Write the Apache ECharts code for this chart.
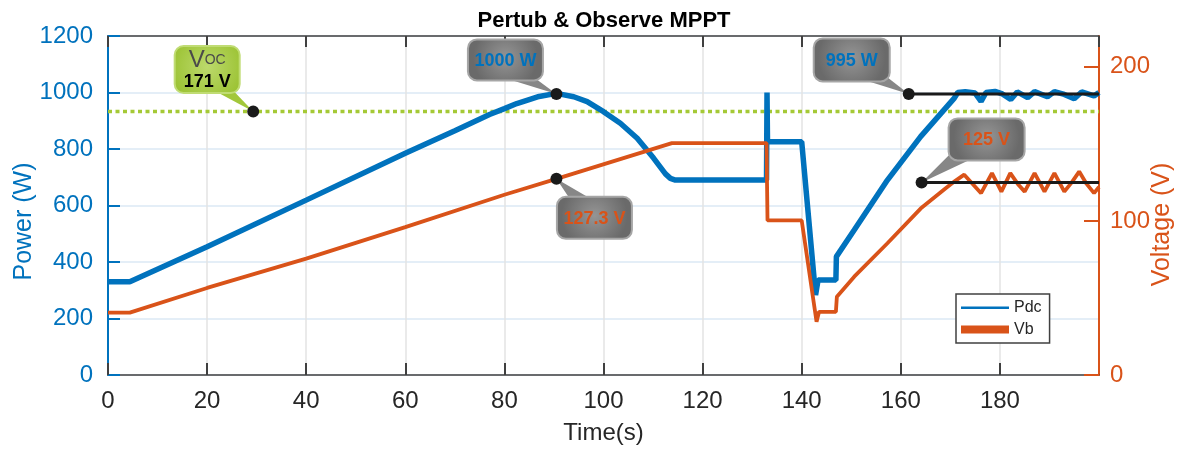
<!DOCTYPE html>
<html>
<head>
<meta charset="utf-8">
<title>Pertub & Observe MPPT</title>
<script src="https://cdn.jsdelivr.net/npm/echarts@6/dist/echarts.min.js"></script>
<style>
  html, body { margin: 0; padding: 0; background: #fff; }
  #chart { width: 1184px; height: 454px; }
</style>
</head>
<body>
<div id="chart"></div>
<script>
// Pdc (W) against time (s)
const pdcPoints = [
  [0, 330], [4.4, 330], [20, 454], [40, 619], [60, 785], [70, 865], [77, 922], [80, 943],
  [82.5, 961], [85, 975], [87, 986], [90.5, 997], [94, 985], [96.7, 968], [100, 932],
  [103.4, 891], [106.8, 838], [110.1, 768], [112.5, 712], [113.5, 696], [114.5, 690],
  [132.9, 690], [133, 1000], [133.1, 826], [140, 826],
  [142.8, 283], [143.3, 336], [146.9, 336], [147, 419], [150.6, 513], [157.3, 690], [164, 844],
  [170.8, 980], [171.5, 1000], [173, 1003], [175, 998], [176.2, 968], [177.2, 1000], [179, 1004],
  [180.5, 995], [182.2, 975], [183.5, 1002], [185.6, 982], [187, 1003], [189.6, 985], [191, 1003],
  [193, 993], [195, 978], [196.5, 1002], [199, 988], [200, 1000]
]
// Vb (V) against time (s)
const vbPoints = [
  [0, 40.5], [4.4, 40.5], [20, 56.5], [40, 75.5], [60, 96], [80, 117], [90.5, 127.3],
  [113.8, 150.5], [132.9, 150.5], [133.1, 100.3], [140, 100.3], [143, 34.6], [143.5, 41],
  [146.9, 41], [147.1, 50.8], [150.6, 63.8], [157.3, 85.5], [164, 108], [169, 121],
  [171, 126], [172.8, 130], [174.5, 124], [176.2, 118], [178.4, 131], [180.3, 119], [182.1, 131],
  [183.6, 124], [185, 119], [187, 131], [189, 119], [191, 131], [193, 119], [194.5, 125],
  [196, 132], [197.5, 124], [199, 118], [200, 122]
]
const vocLevel = 171
const seriesNames = ['Pdc', 'Vb']

// callouts: [time, value]
const powerNotes = [[90.5, 995], [161.6, 995]]
const powerNoteText = ['1000 W', '995 W']
const voltNotes = [[29.3, 171], [90.5, 127.3], [164.2, 125]]
const voltNoteText = ['{a|V}{b|OC}\n{c|171 V}', '127.3 V', '125 V']

const BLUE = '#0072BD'
const ORANGE = '#D95319'
const FONT = 'Liberation Sans, Arial, Helvetica, sans-serif'

const grayFill = () => new echarts.graphic.RadialGradient(0.5, 0.45, 0.75, [
  { offset: 0, color: '#959595' }, { offset: 1, color: '#6a6a6a' }
])
const greenFill = () => new echarts.graphic.RadialGradient(0.5, 0.45, 0.75, [
  { offset: 0, color: '#bcd96c' }, { offset: 1, color: '#9cc334' }
])

// box placement relative to the dot, pixels
const powerNoteStyle = [
  { dx: -51, dy: -34, w: 75, h: 41, b1: [-4, 17], b2: [28, 17], color: BLUE },
  { dx: -57, dy: -34, w: 76, h: 43, b1: [6, 18], b2: [34, 16], color: BLUE, lineTo: 200 }
]
const voltNoteStyle = [
  { dx: -46, dy: -42, w: 65, h: 47, b1: [5, 20], b2: [25, 20], color: '#000', green: true },
  { dx: 38, dy: 39, w: 75, h: 42, b1: [-24, -18], b2: [-2, -18], color: ORANGE },
  { dx: 65, dy: -43, w: 76, h: 42, b1: [-34, 12], b2: [-14, 19], color: ORANGE, lineTo: 200 }
]

// legend strokes: thin line for Pdc, thick bar for Vb (corner specks keep the box 48x17)
const thinIcon = 'path://M0,7.5h48v2.5h-48z M0,0h0.01v0.01h-0.01z M47.99,16.99h0.01v0.01h-0.01z'
const thickIcon = 'path://M0,4.5h48v8h-48z M0,0h0.01v0.01h-0.01z M47.99,16.99h0.01v0.01h-0.01z'

function calloutRenderer(texts, styles) {
  return (params, api) => {
    const s = styles[params.dataIndex]
    const p = api.coord([api.value(0), api.value(1)])
    const cx = p[0] + s.dx, cy = p[1] + s.dy
    const kids = []
    if (s.lineTo != null) {
      const q = api.coord([s.lineTo, api.value(1)])
      kids.push({ type: 'line', shape: { x1: p[0], y1: p[1], x2: q[0], y2: q[1] },
        style: { stroke: '#1a1a1a', lineWidth: 3 } })
    }
    kids.push({ type: 'polygon',
      shape: { points: [[cx + s.b1[0], cy + s.b1[1]], [cx + s.b2[0], cy + s.b2[1]], p] },
      style: { fill: s.green ? '#a2c73a' : '#878787' } })
    kids.push({ type: 'rect',
      shape: { x: cx - s.w / 2, y: cy - s.h / 2, width: s.w, height: s.h, r: 9 },
      style: { fill: s.green ? greenFill() : grayFill(), stroke: s.green ? '#c0dc74' : '#a6a6a6', lineWidth: 2 } })
    kids.push({ type: 'text', style: {
      text: texts[params.dataIndex], x: cx, y: cy + 1, align: 'center', verticalAlign: 'middle',
      fill: s.color, fontSize: 18, fontWeight: 'bold', fontFamily: FONT,
      rich: {
        a: { fontSize: 24, fontWeight: 'normal', fill: '#4a4a4a', fontFamily: FONT, lineHeight: 24 },
        b: { fontSize: 14, fontWeight: 'normal', fill: '#4a4a4a', fontFamily: FONT, lineHeight: 24 },
        c: { fontSize: 18, fontWeight: 'bold', fill: '#000', fontFamily: FONT, lineHeight: 20 }
      }
    } })
    kids.push({ type: 'circle', shape: { cx: p[0], cy: p[1], r: 6 }, style: { fill: '#1a1a1a' } })
    return { type: 'group', children: kids }
  }
}

const chart = echarts.init(document.getElementById('chart'))

const xBase = {
  type: 'value', min: 0, max: 200, interval: 20,
  axisLine: { show: true, onZero: false, lineStyle: { color: '#404040', width: 1.5 } },
  axisTick: { show: true, inside: true, length: 12, lineStyle: { color: '#404040', width: 2 } }
}
const plain = v => String(v)

chart.setOption({
  animation: false,
  textStyle: { fontFamily: FONT },
  title: {
    text: 'Pertub & Observe MPPT', left: 599, top: 5, textAlign: 'center',
    textStyle: { fontSize: 22, fontWeight: 'bold', color: '#000', fontFamily: FONT }
  },
  legend: {
    data: [
      { name: 'Pdc', icon: thinIcon },
      { name: 'Vb', icon: thickIcon }
    ],
    orient: 'vertical', left: 956, top: 294,
    itemWidth: 48, itemHeight: 17, itemGap: 5, padding: [5, 8, 5, 5],
    borderColor: '#404040', borderWidth: 1.5, backgroundColor: '#fff',
    textStyle: { fontSize: 16, color: '#262626', fontFamily: FONT }
  },
  grid: { left: 108, right: 85, top: 36, bottom: 79, outerBoundsMode: 'none', containLabel: false },
  xAxis: [
    Object.assign({}, xBase, {
      position: 'bottom',
      axisLabel: { fontSize: 24, color: '#262626', margin: 14, showMaxLabel: false, formatter: plain },
      splitLine: { show: true, lineStyle: { color: '#e3e3e3', width: 1.5 } },
      name: 'Time(s)', nameLocation: 'middle', nameGap: 46, nameMoveOverlap: false,
      nameTextStyle: { fontSize: 24, color: '#262626' }
    }),
    Object.assign({}, xBase, {
      position: 'top',
      axisTick: { show: true, inside: true, length: 11, lineStyle: { color: '#404040', width: 2 } },
      axisLabel: { show: false }, splitLine: { show: false }
    })
  ],
  yAxis: [
    {
      type: 'value', min: 0, max: 1200, interval: 200, position: 'left',
      axisLine: { show: true, onZero: false, lineStyle: { color: BLUE, width: 2 } },
      axisTick: { show: true, inside: true, length: 12, lineStyle: { color: BLUE, width: 2 } },
      axisLabel: { fontSize: 24, color: BLUE, margin: 15, formatter: plain },
      splitLine: { show: true, lineStyle: { color: '#dbe8f4', width: 1.5 } },
      name: 'Power (W)', nameLocation: 'middle', nameGap: 71, nameMoveOverlap: false,
      nameTextStyle: { fontSize: 25, color: BLUE, padding: [0, 32, 0, 0] }
    },
    {
      type: 'value', min: 0, max: 220, interval: 100, position: 'right',
      axisLine: { show: true, onZero: false, lineStyle: { color: ORANGE, width: 2 } },
      axisTick: { show: true, inside: true, length: 15, lineStyle: { color: ORANGE, width: 2 } },
      axisLabel: { fontSize: 24, color: ORANGE, margin: 11, showMaxLabel: false, formatter: plain },
      splitLine: { show: false },
      name: 'Voltage (V)', nameLocation: 'middle', nameGap: 51, nameMoveOverlap: false,
      nameTextStyle: { fontSize: 25, color: ORANGE, padding: [0, 38, 0, 0] }
    }
  ],
  series: [
    {
      name: 'Voc', type: 'line', yAxisIndex: 1, symbol: 'none', silent: true,
      data: [[0, vocLevel], [200, vocLevel]],
      lineStyle: { color: '#a5c936', width: 3.5, type: [4, 3.5] }
    },
    {
      name: seriesNames[0], type: 'line', yAxisIndex: 0, symbol: 'none',
      data: pdcPoints, lineStyle: { color: BLUE, width: 5.5 }, itemStyle: { color: BLUE }
    },
    {
      name: seriesNames[1], type: 'line', yAxisIndex: 1, symbol: 'none',
      data: vbPoints, lineStyle: { color: ORANGE, width: 3.8 }, itemStyle: { color: ORANGE }
    },
    {
      type: 'custom', yAxisIndex: 0, clip: false, z: 5, silent: true,
      data: powerNotes, renderItem: calloutRenderer(powerNoteText, powerNoteStyle)
    },
    {
      type: 'custom', yAxisIndex: 1, clip: false, z: 5, silent: true,
      data: voltNotes, renderItem: calloutRenderer(voltNoteText, voltNoteStyle)
    }
  ]
})
</script>
</body>
</html>
